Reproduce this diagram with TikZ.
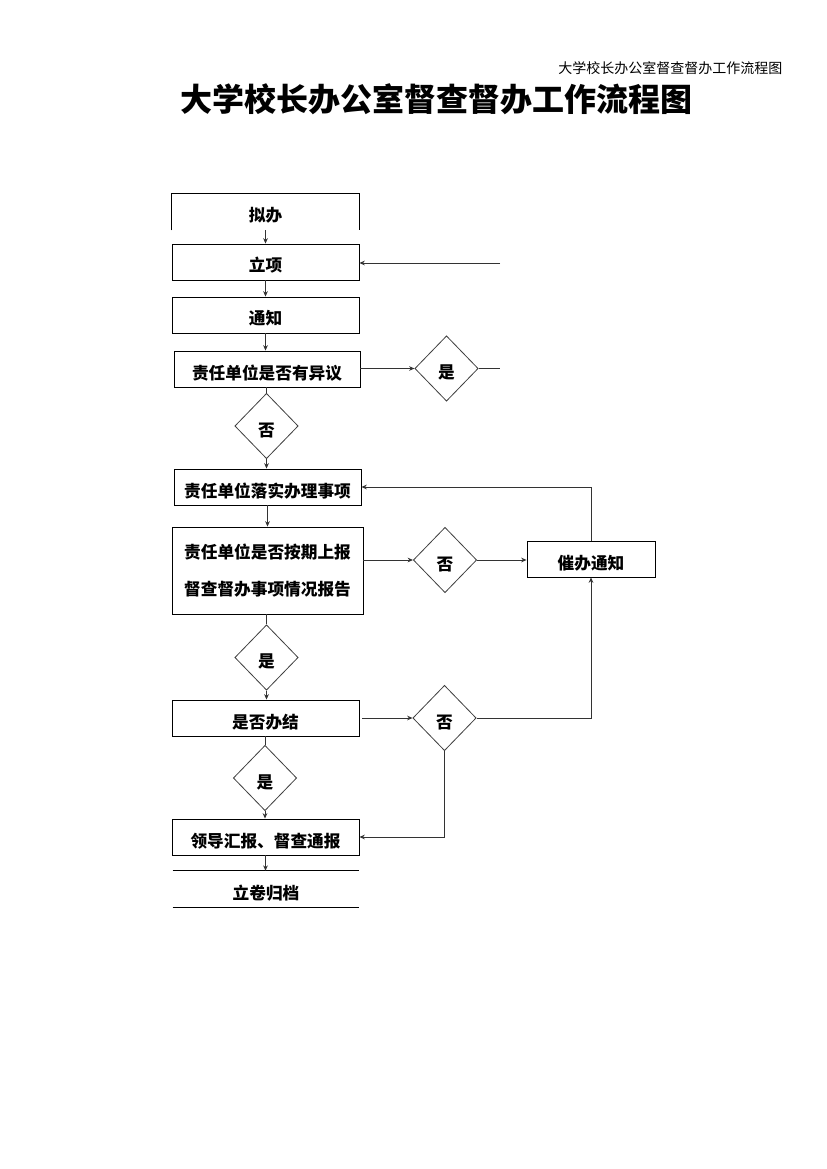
\documentclass[tikz,border=0pt]{standalone}
\usepackage{fontspec}
\newfontfamily\cjk{Noto Sans CJK SC}
\usetikzlibrary{shapes.geometric,arrows.meta}
\begin{document}
\begin{tikzpicture}[x=0.75pt,y=-0.75pt,
  low/.style={text height=15pt,text depth=0pt},
  box/.style={draw=black,line width=0.7pt,rectangle,inner sep=0pt,minimum height=27pt,font=\cjk\bfseries\fontsize{12.5}{14}\selectfont},
  openbox/.style={rectangle,inner sep=0pt,minimum height=27pt,low,font=\cjk\bfseries\fontsize{12.5}{14}\selectfont},
  dia/.style={draw=black!75,line width=0.6pt,diamond,inner sep=0pt,minimum width=47.5pt,minimum height=49pt,low,font=\cjk\bfseries\fontsize{12.5}{14}\selectfont},
  arr/.style={draw=black!80,line width=0.6pt,-{Stealth[length=4pt,width=3.5pt]}},
  ln/.style={draw=black!80,line width=0.6pt}]
\useasboundingbox (0,0) rectangle (826,1169);
\fill[white] (0,0) rectangle (826,1169);
% header and title
\node[anchor=east,font=\cjk\fontsize{10.5}{12}\selectfont] (hdr) at (787,68) {大学校长办公室督查督办工作流程图};
\node[font=\cjk\bfseries\fontsize{24}{28}\selectfont] (title) at (436,99) {大学校长办公室督查督办工作流程图};
% boxes
\node[openbox,minimum width=140.25pt] (nb) at (265.5,212) {拟办};
\draw[line width=0.7pt] (nb.south west) -- (nb.north west) -- (nb.north east) -- (nb.south east);
\node[box,low,minimum width=140.25pt] (lx) at (265.5,262) {立项};
\node[box,low,minimum width=140.25pt] (tz) at (265.5,315) {通知};
\node[box,low,minimum width=139.5pt] (yy) at (267,369) {责任单位是否有异议};
\node[dia] (d1) at (446.5,368.5) {是};
\node[dia] (d2) at (266.5,426) {否};
\node[box,low,minimum width=140.25pt] (ls) at (267.5,487) {责任单位落实办理事项};
\node[box,minimum width=143.25pt,minimum height=65.25pt,align=center,font=\cjk\bfseries\fontsize{12.5}{28}\selectfont] (aq) at (267.5,570.5) {责任单位是否按期上报\\督查督办事项情况报告};
\node[dia] (d3) at (445,560) {否};
\node[box,low,minimum width=96pt] (cb) at (591,559) {催办通知};
\node[dia] (d4) at (266.5,657.5) {是};
\node[box,low,minimum width=140.25pt] (bj) at (265.5,718) {是否办结};
\node[dia] (d5) at (444.5,718) {否};
\node[dia] (d6) at (265,778) {是};
\node[box,low,minimum width=140.25pt] (ld) at (265.5,837) {领导汇报、督查通报};
\node[openbox,minimum width=139.5pt] (lj) at (266,889) {立卷归档};
\draw[line width=0.7pt] (lj.north west) -- (lj.north east);
\draw[line width=0.7pt] (lj.south west) -- (lj.south east);
% free ends
\coordinate (e1) at (500,368.5);
\coordinate (e2) at (500,263);
% connectors
\draw[arr] (nb.south) -- (lx.north);
\draw[arr] (lx.south) -- (tz.north);
\draw[arr] (tz.south) -- (yy.north -| tz.south);
\draw[arr] (yy.east |- d1.west) -- (d1.west);
\draw[ln] (d1.east) -- (e1);
\draw[arr] (e2) -- (lx.east |- e2);
\draw[ln] (yy.south -| d2.north) -- (d2.north);
\draw[arr] (d2.south) -- (ls.north -| d2.south);
\draw[arr] (ls.south) -- (aq.north);
\draw[arr] (aq.east |- d3.west) -- (d3.west);
\draw[arr] (d3.east) -- (cb.west |- d3.east);
\draw[arr] (cb.north) |- (ls.east);
\draw[ln] (aq.south -| d4.north) -- (d4.north);
\draw[arr] (d4.south) -- (bj.north -| d4.south);
\draw[arr] ([xshift=2.25pt]bj.east |- d5.west) -- (d5.west);
\draw[arr] (d5.east) -| (cb.south);
\draw[arr] (d5.south) |- (ld.east);
\draw[ln] (bj.south -| d6.north) -- (d6.north);
\draw[arr] (d6.south) -- (ld.north -| d6.south);
\draw[arr] (ld.south) -- (lj.north -| ld.south);
\end{tikzpicture}
\end{document}
